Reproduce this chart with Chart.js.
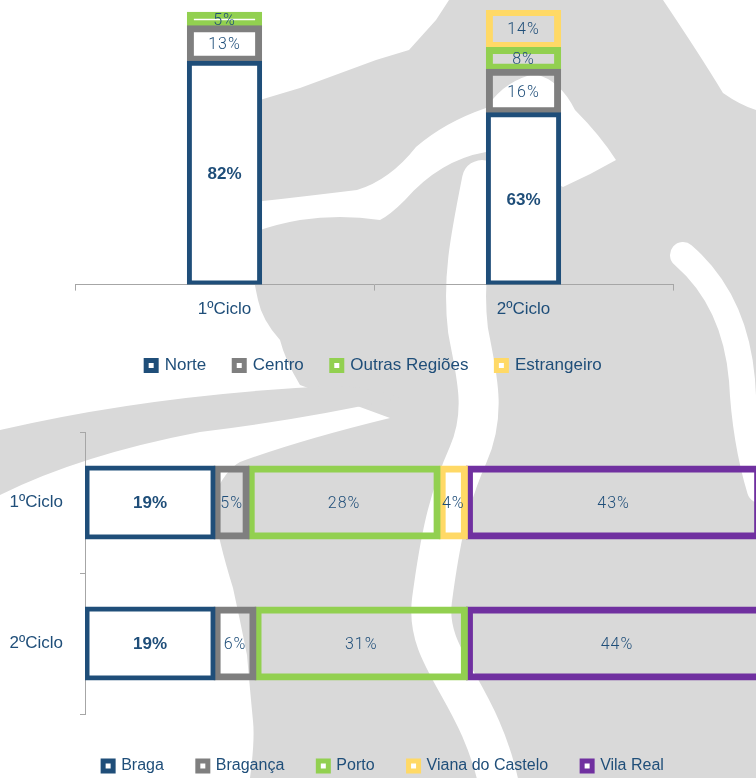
<!DOCTYPE html>
<html>
<head>
<meta charset="utf-8">
<script src="https://cdn.jsdelivr.net/npm/chart.js@4.4.0/dist/chart.umd.min.js"></script>
<style>
  html, body { margin: 0; padding: 0; background: #fff; overflow: hidden; }
  body { width: 756px; height: 778px; position: relative; }
  #wm { position: absolute; left: 0; top: 0; }
  #topBox { position: absolute; left: 0; top: 0; width: 756px; height: 384px; }
  #bottomBox { position: absolute; left: 0; top: 400px; width: 780px; height: 384px; }
</style>
</head>
<body>
<!-- faint background figure behind the charts -->
<svg id="wm" width="756" height="778" viewBox="0 0 756 778">
  <g fill="#d9d9d9">
    <path d="M227,110 L300,88 L376,60 L409,50 L436,20 L449,0 L663,0 Q700,55 723,93 Q740,105 756,110 L756,778 L250,778 Q255,740 253,721 Q250,690 247,655 Q240,620 233,588 Q215,530 213,498 Q225,470 240,462 Q300,440 390,418 L300,385 Q285,360 280,340 Q262,320 258,300 Q250,265 250,233 L233,200 Z"/>
    <path d="M0,430 Q150,395 330,386 Q370,386 400,398 Q300,420 200,432 Q80,455 0,495 Z"/>
  </g>
  <path fill="#fff" d="M228,205 Q300,197 357,190 Q390,180 416,147 Q445,122 486,108 Q505,80 535,74 Q560,80 575,110 Q600,135 616,160 Q590,175 563,187 Q520,165 486,152 Q440,160 405,200 Q390,215 380,220 Q340,214 300,220 Q265,226 235,240 Z"/>
  <g fill="none" stroke="#fff" stroke-linecap="round">
    <path d="M482,180 C470,240 462,280 468,330 C475,370 488,410 468,455 S440,540 432,600 S480,690 500,790" stroke-width="40"/>
    <path d="M683,255 Q735,300 742,380 Q745,440 760,490" stroke-width="26"/>
  </g>
</svg>
<div id="topBox"><canvas id="origemChart"></canvas></div>
<div id="bottomBox"><canvas id="distritoChart"></canvas></div>
<script>
const ciclos = ['1ºCiclo', '2ºCiclo'];

// origem dos alunos (%)
const norte = [82, 63];
const centro = [13, 16];
const outrasRegioes = [5, 8];
const estrangeiro = [null, 14];

// distrito (%)
const braga = [19, 19];
const braganca = [5, 6];
const porto = [28, 31];
const vianaCastelo = [4, null];
const vilaReal = [43, 44];

const blue = '#1f4e79';
const gray = '#7f7f7f';
const green = '#92d050';
const yellow = '#ffd966';
const purple = '#7030a0';
const axisGray = '#a6a6a6';
const fontFamily = '"Liberation Sans", Arial, sans-serif';

function barSet(label, data, color, fill) {
  return {
    label: label,
    data: data,
    borderColor: color,
    backgroundColor: fill,
    borderWidth: 5,
    borderSkipped: false,
    inflateAmount: 1
  };
}

function legendOpts(size, pad) {
  return {
    position: 'bottom',
    labels: {
      color: blue,
      font: { family: fontFamily, size: size },
      boxWidth: 10,
      boxHeight: 10,
      padding: pad,
      generateLabels(chart) {
        return chart.data.datasets.map((ds, i) => ({
          text: ds.label,
          fillStyle: '#ffffff',
          strokeStyle: ds.borderColor,
          lineWidth: 5,
          fontColor: blue,
          hidden: !chart.isDatasetVisible(i),
          datasetIndex: i
        }));
      }
    }
  };
}

// percent labels in the middle of every bar
const valueLabels = {
  id: 'valueLabels',
  afterDatasetsDraw(chart) {
    const ctx = chart.ctx;
    ctx.save();
    ctx.textAlign = 'center';
    ctx.textBaseline = 'middle';
    ctx.fillStyle = blue;
    chart.data.datasets.forEach((ds, i) => {
      const meta = chart.getDatasetMeta(i);
      meta.data.forEach((bar, j) => {
        const v = ds.data[j];
        if (v == null) return;
        const p = bar.getCenterPoint();
        if (i === 0) {
          ctx.font = 'bold 17px ' + fontFamily;
          ctx.letterSpacing = '0px';
        } else {
          ctx.font = '300 16px Roboto';
          ctx.letterSpacing = '1px';
        }
        ctx.fillText(v + '%', p.x, p.y + 1);
      });
    });
    ctx.restore();
  }
};

new Chart(document.getElementById('origemChart'), {
  type: 'bar',
  data: {
    labels: ciclos,
    datasets: [
      barSet('Norte', norte, blue, '#ffffff'),
      barSet('Centro', centro, gray, 'rgba(0,0,0,0)'),
      barSet('Outras Regiões', outrasRegioes, green, 'rgba(0,0,0,0)'),
      barSet('Estrangeiro', estrangeiro, yellow, 'rgba(0,0,0,0)')
    ]
  },
  options: {
    responsive: true,
    maintainAspectRatio: false,
    animation: false,
    layout: { padding: { left: 75, right: 83, top: 10 } },
    datasets: { bar: { barPercentage: 0.245, categoryPercentage: 1 } },
    scales: {
      x: {
        stacked: true,
        border: { color: axisGray },
        grid: { drawOnChartArea: false, tickLength: 6, color: axisGray },
        ticks: { color: blue, font: { family: fontFamily, size: 17 }, padding: 9 }
      },
      y: { stacked: true, display: false, min: 0, max: 101 }
    },
    plugins: {
      legend: legendOpts(17, 28),
      tooltip: { enabled: false }
    }
  },
  plugins: [valueLabels]
});

new Chart(document.getElementById('distritoChart'), {
  type: 'bar',
  data: {
    labels: ciclos,
    datasets: [
      barSet('Braga', braga, blue, '#ffffff'),
      barSet('Bragança', braganca, gray, 'rgba(0,0,0,0)'),
      barSet('Porto', porto, green, 'rgba(0,0,0,0)'),
      barSet('Viana do Castelo', vianaCastelo, yellow, 'rgba(0,0,0,0)'),
      barSet('Vila Real', vilaReal, purple, 'rgba(0,0,0,0)')
    ]
  },
  options: {
    indexAxis: 'y',
    responsive: true,
    maintainAspectRatio: false,
    animation: false,
    layout: { padding: { top: 32, right: 13 } },
    datasets: { bar: { barPercentage: 0.51, categoryPercentage: 1 } },
    scales: {
      x: {
        stacked: true,
        min: 0,
        max: 100,
        border: { display: false },
        grid: { drawOnChartArea: false, tickLength: 10, color: 'rgba(0,0,0,0)' },
        ticks: { display: false }
      },
      y: {
        stacked: true,
        border: { color: axisGray },
        grid: { drawOnChartArea: false, tickLength: 5, color: axisGray },
        ticks: { color: blue, font: { family: fontFamily, size: 17 }, padding: 17 },
        afterFit(scale) { scale.width = 85; }
      }
    },
    plugins: {
      legend: legendOpts(16, 34),
      tooltip: { enabled: false }
    }
  },
  plugins: [valueLabels]
});
</script>
</body>
</html>
